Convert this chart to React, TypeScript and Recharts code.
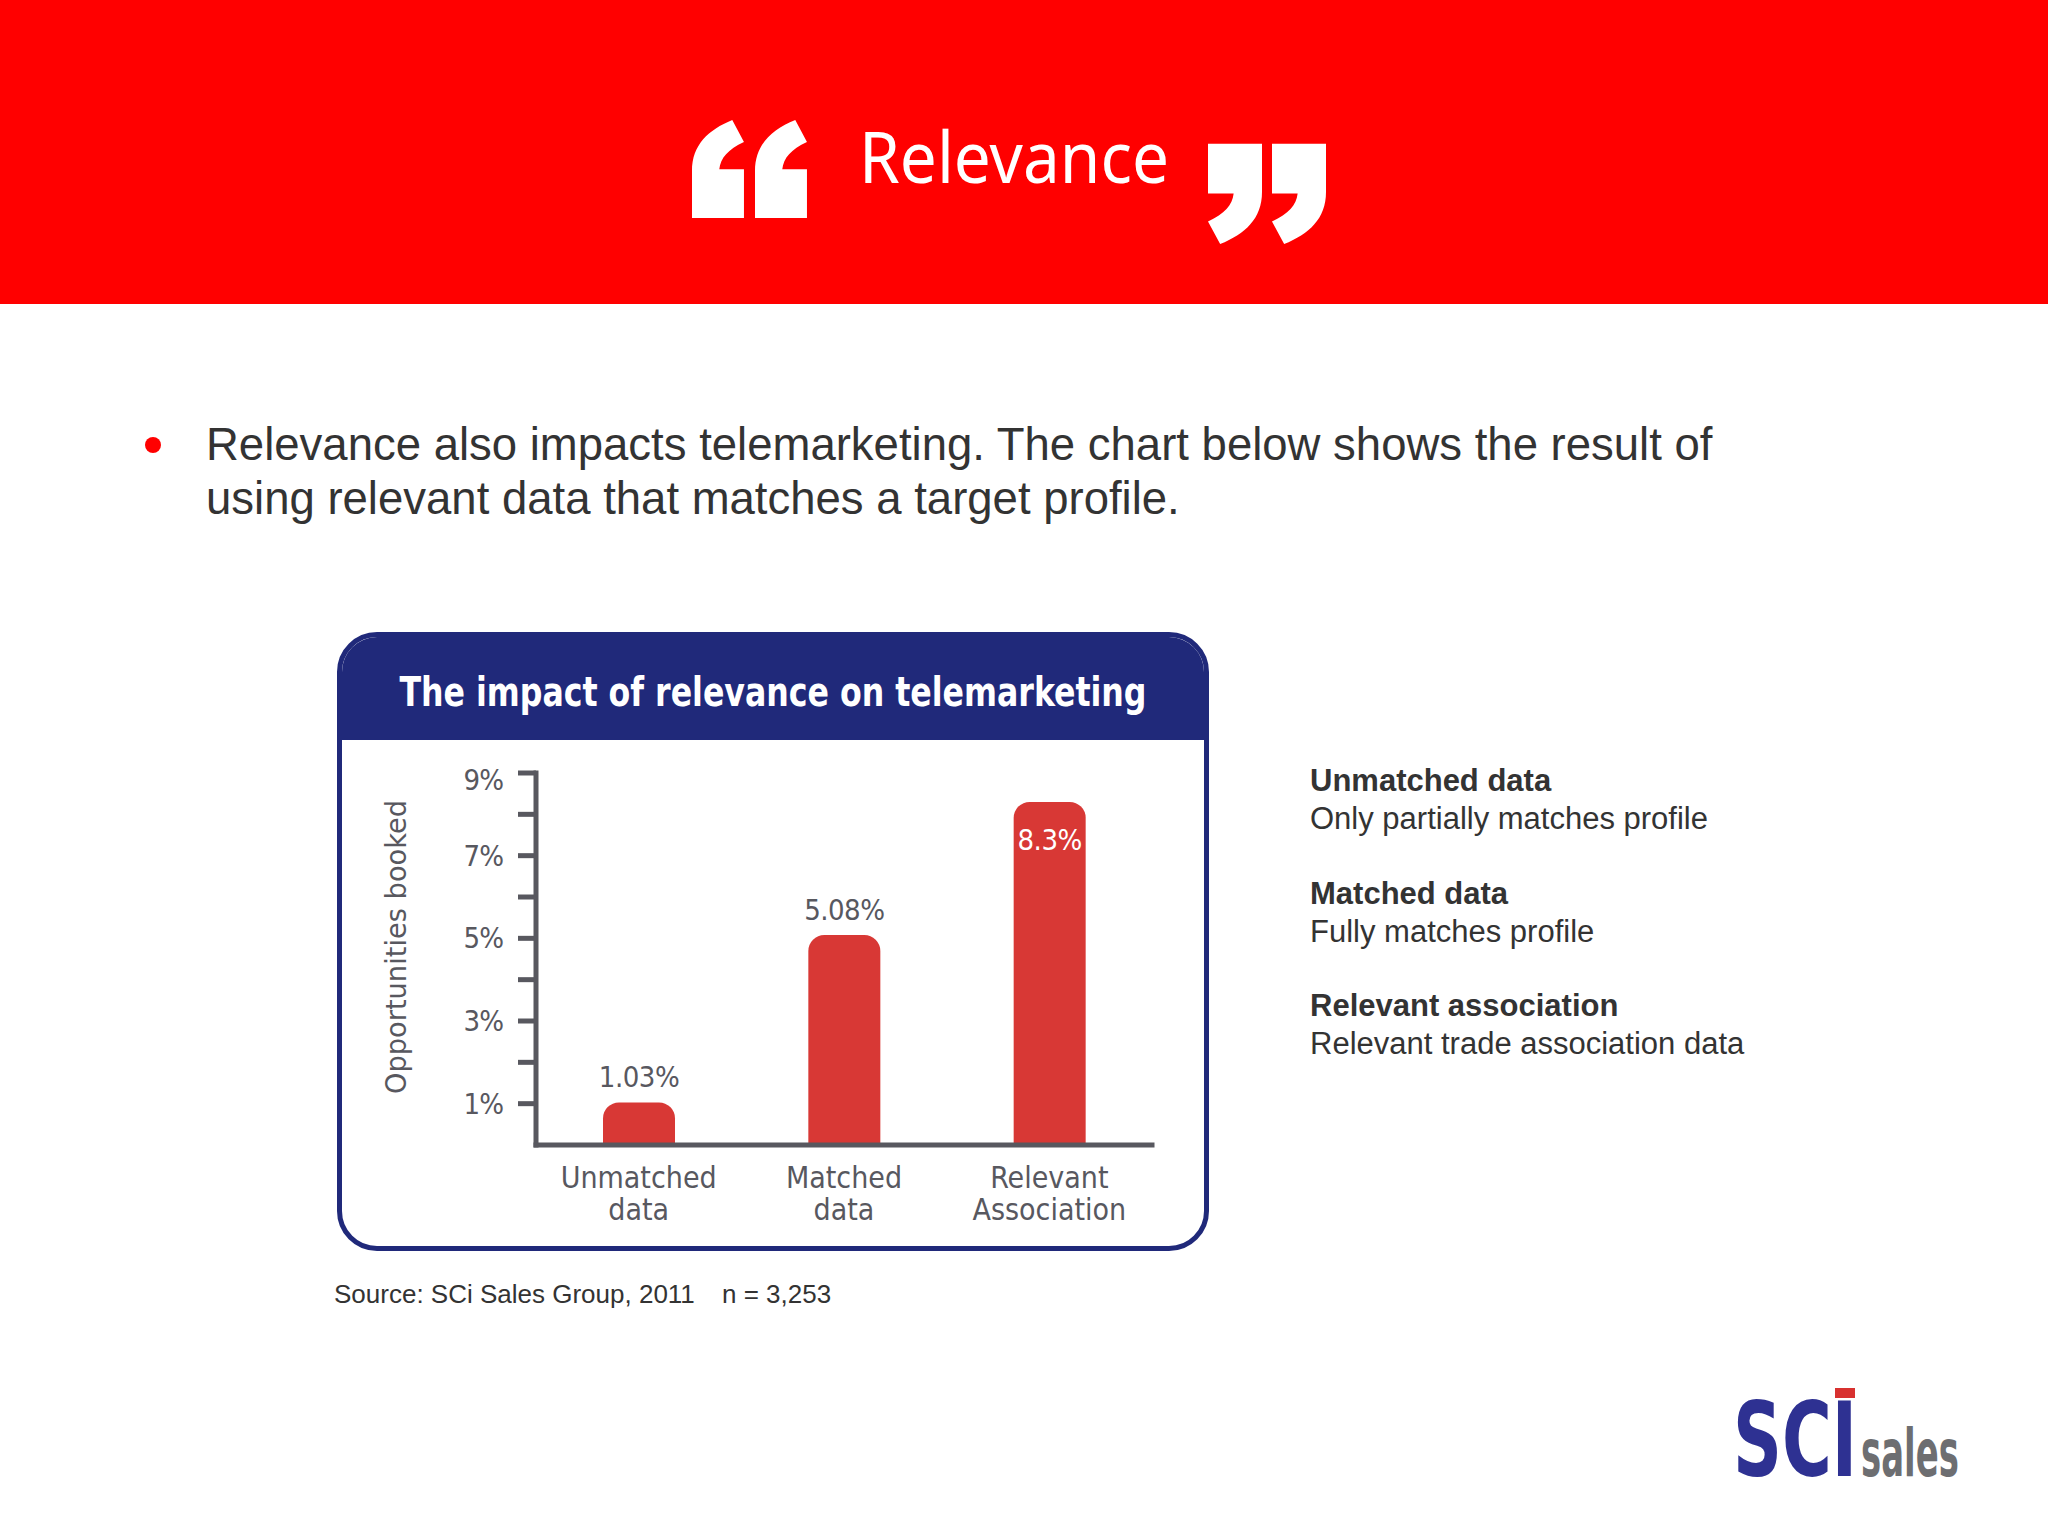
import React from "react";
import { BarChart, Bar, XAxis, YAxis, LabelList } from "recharts";

const categories = ["Unmatched data", "Matched data", "Relevant Association"];
const booked = [1.03, 5.08, 8.3];
const yTicks = [1, 2, 3, 4, 5, 6, 7, 8, 9];
const legendTitles = ["Unmatched data", "Matched data", "Relevant association"];
const legendNotes = ["Only partially matches profile", "Fully matches profile", "Relevant trade association data"];

const chartData = categories.map((name, i) => ({ name, value: booked[i] }));

const RED = "#ff0000";
const NAVY = "#20297a";
const AXIS = "#58585f";
const BAR = "#d83835";
const TEXT = "#333333";
const CHART_FONT = "'DejaVu Sans Condensed', 'Liberation Sans Narrow', 'DejaVu Sans', sans-serif";
const BODY_FONT = "'Liberation Sans', Arial, sans-serif";

// one block quote glyph, drawn in a 120 x 298 box
const QUOTE = "M0,298 L0,155 C0,75 38,30 93,0 L120,67 C83,90 66,115 63,150 L120,150 L120,298 Z";

const CategoryTick = ({ x, y, payload }: any) => {
  const words = String(payload.value).split(" ");
  return (
    <g>
      {words.map((w, i) => (
        <text key={i} x={x} y={y + 32 + i * 32} textAnchor="middle" dominantBaseline="central"
          fill={AXIS} fontSize={30} fontFamily={CHART_FONT}>{w}</text>
      ))}
    </g>
  );
};

const PercentTick = ({ x, y, payload }: any) => {
  if (payload.value % 2 === 0) return <g />;
  return (
    <text x={x} y={payload.value === 9 ? y + 7 : y} textAnchor="end" dominantBaseline="central"
      fill={AXIS} fontSize={29} letterSpacing={-1} fontFamily={CHART_FONT}>{`${payload.value}%`}</text>
  );
};

const ValueLabel = (props: any) => {
  const { x, y, width, value } = props;
  const inside = value === Math.max(...booked);
  return (
    <text x={Number(x) + Number(width) / 2} y={inside ? Number(y) + 38 : Number(y) - 25}
      textAnchor="middle" dominantBaseline="central" fill={inside ? "#ffffff" : AXIS}
      fontSize={29} letterSpacing={-0.5} fontFamily={CHART_FONT}>{`${value}%`}</text>
  );
};

const App = () => {
  return (
    <div style={{ position: "absolute", left: 0, top: 0, width: 2048, height: 1536, background: "#ffffff", overflow: "hidden" }}>
      <div style={{ position: "absolute", left: 0, top: 0, width: 2048, height: 304, background: RED }} />

      {/* bullet */}
      <div style={{ position: "absolute", left: 145, top: 437, width: 16, height: 16, borderRadius: "50%", background: RED }} />
      <div style={{ position: "absolute", left: 206, top: 418, width: 1780, fontFamily: BODY_FONT, fontSize: 45.5, lineHeight: "54px", color: TEXT }}>
        Relevance also impacts telemarketing. The chart below shows the result of<br />
        using relevant data that matches a target profile.
      </div>

      {/* chart card */}
      <div style={{ position: "absolute", left: 337, top: 632, width: 872, height: 619, boxSizing: "border-box", border: `5px solid ${NAVY}`, borderRadius: 40, overflow: "hidden", background: "#ffffff" }}>
        <div style={{ height: 103, background: NAVY }} />
      </div>
      <div style={{ position: "absolute", left: 337, top: 740 }}>
        <BarChart width={872} height={505} data={chartData} margin={{ top: 33, right: 57, bottom: 0, left: 0 }}>
          <XAxis dataKey="name" height={100} tickLine={false} tickSize={0} tickMargin={0} interval={0}
            axisLine={{ stroke: AXIS, strokeWidth: 5, strokeLinecap: "square" }} tick={<CategoryTick />} />
          <YAxis width={199} domain={[0, 9]} ticks={yTicks} interval={0} tickSize={18} tickMargin={15}
            axisLine={{ stroke: AXIS, strokeWidth: 5, strokeLinecap: "square" }}
            tickLine={{ stroke: AXIS, strokeWidth: 5 }} tick={<PercentTick />} />
          <Bar dataKey="value" fill={BAR} barSize={72} radius={[16, 16, 0, 0]} isAnimationActive={false}>
            <LabelList dataKey="value" content={<ValueLabel />} />
          </Bar>
        </BarChart>
      </div>

      <svg width={2048} height={1536} style={{ position: "absolute", left: 0, top: 0, pointerEvents: "none" }}>
        {/* quote marks */}
        <path d={QUOTE} fill="#ffffff" transform="translate(692,120) scale(0.433,0.329)" />
        <path d={QUOTE} fill="#ffffff" transform="translate(755,120) scale(0.433,0.329)" />
        <path d={QUOTE} fill="#ffffff" transform="translate(1262,244) scale(-0.45,-0.336)" />
        <path d={QUOTE} fill="#ffffff" transform="translate(1326,244) scale(-0.45,-0.336)" />
        <text x={859} y={183} fill="#ffffff" fontSize={72} fontFamily="'Noto Sans', 'Open Sans', sans-serif"
          textLength={310} lengthAdjust="spacingAndGlyphs">Relevance</text>

        <text x={773} y={692} textAnchor="middle" dominantBaseline="central" fill="#ffffff" fontSize={40}
          fontWeight="bold" fontFamily={CHART_FONT} textLength={747} lengthAdjust="spacingAndGlyphs">
          The impact of relevance on telemarketing
        </text>
        <text transform="translate(396,947) rotate(-90)" textAnchor="middle" dominantBaseline="central"
          fill={AXIS} fontSize={29} fontFamily={CHART_FONT} textLength={294} lengthAdjust="spacingAndGlyphs">
          Opportunities booked
        </text>

        {/* logo */}
        <g transform="translate(1733,1476) scale(0.653,1)">
          <text x={0} y={0} fill="#2e3192" fontSize={104} fontWeight={900} fontFamily="'DejaVu Sans', sans-serif"
            textLength={190} lengthAdjust="spacingAndGlyphs">SCI</text>
        </g>
        <rect x={1835} y={1388} width={20} height={10} fill="#d8312f" />
        <g transform="translate(1861,1476) scale(0.515,1)">
          <text x={0} y={0} fill="#6d6e71" fontSize={66} fontWeight="bold" fontFamily="'DejaVu Sans', sans-serif"
            textLength={190} lengthAdjust="spacingAndGlyphs">sales</text>
        </g>
      </svg>

      {/* legend notes */}
      {legendTitles.map((t, i) => (
        <div key={t} style={{ position: "absolute", left: 1310, top: 762 + i * 112.5, fontFamily: BODY_FONT, fontSize: 31, lineHeight: "38px", color: TEXT }}>
          <div style={{ fontWeight: "bold" }}>{t}</div>
          <div>{legendNotes[i]}</div>
        </div>
      ))}

      <div style={{ position: "absolute", left: 334, top: 1279, fontFamily: BODY_FONT, fontSize: 26, lineHeight: "30px", color: TEXT, whiteSpace: "nowrap" }}>
        Source: SCi Sales Group, 2011
      </div>
      <div style={{ position: "absolute", left: 722, top: 1279, fontFamily: BODY_FONT, fontSize: 26, lineHeight: "30px", color: TEXT, whiteSpace: "nowrap" }}>
        n = 3,253
      </div>
    </div>
  );
};

export default App;
